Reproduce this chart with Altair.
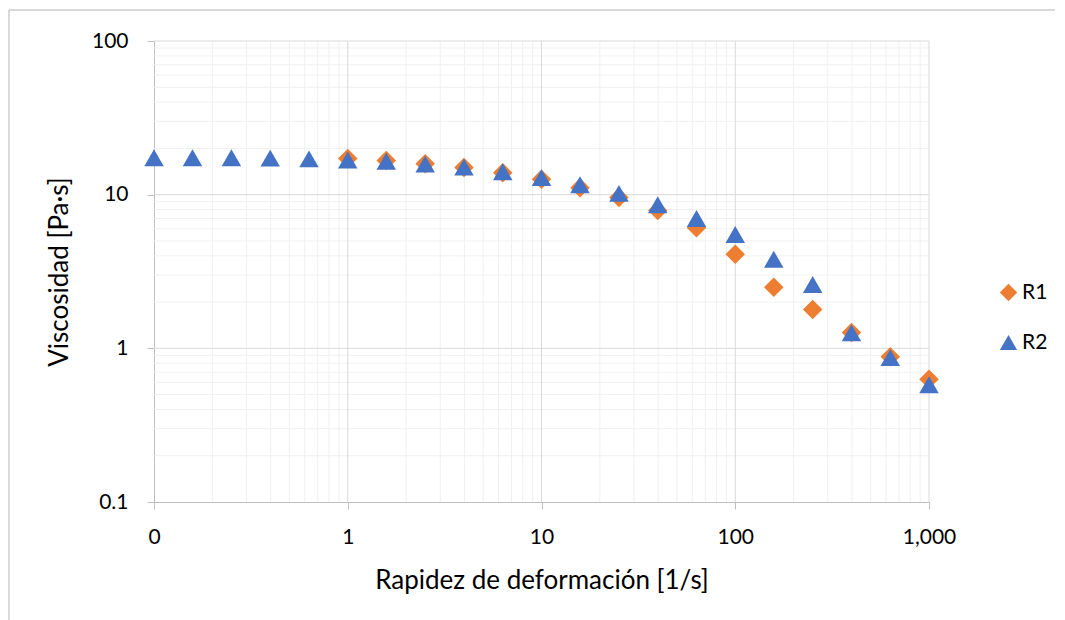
import altair as alt
import pandas as pd

# Shear rate (1/s) and viscosity (Pa·s) for the two runs
RATE_R1 = [1, 1.58, 2.51, 3.98, 6.31, 10, 15.8, 25.1, 39.8, 63.1,
           100, 158, 251, 398, 631, 1000]
VISC_R1 = [17.2, 16.7, 15.9, 15.0, 13.9, 12.6, 11.1, 9.6, 7.9, 6.1,
           4.1, 2.5, 1.79, 1.27, 0.88, 0.63]

RATE_R2 = [0.1, 0.158, 0.251, 0.398, 0.631, 1, 1.58, 2.51, 3.98, 6.31,
           10, 15.8, 25.1, 39.8, 63.1, 100, 158, 251, 398, 631, 1000]
VISC_R2 = [17.4, 17.4, 17.4, 17.3, 17.1, 16.8, 16.5, 15.8, 15.1, 14.1,
           12.9, 11.6, 10.2, 8.6, 7.0, 5.5, 3.8, 2.6, 1.26, 0.87, 0.58]

SERIES = ["R1", "R2"]
COLORS = ["#ED7D31", "#4472C4"]
SHAPES = ["diamond", "triangle-up"]

X_TICKS = [0.1, 1, 10, 100, 1000]
X_TICK_LABELS = ["0", "1", "10", "100", "1,000"]
Y_TICKS = [0.1, 1, 10, 100]
Y_TICK_LABELS = ["0.1", "1", "10", "100"]

X_MINOR = [m * d for d in (0.1, 1, 10, 100) for m in range(2, 10)]
Y_MINOR = [m * d for d in (0.1, 1, 10) for m in range(2, 10)]

FONT = "Lato"
TEXT = "#000000"
MAJOR = "#D9D9D9"
MINOR = "#F0F0F0"
AXIS_LINE = "#BFBFBF"
X_TITLE = "Rapidez de deformación [1/s]"
Y_TITLE = "Viscosidad [Pa·s]"


def label_expr(values, labels):
    parts = [f"datum.value == {v} ? '{l}'" for v, l in zip(values, labels)]
    return " : ".join(parts) + " : ''"


points = pd.DataFrame({
    "rate": RATE_R1 + RATE_R2,
    "visc": VISC_R1 + VISC_R2,
    "serie": ["R1"] * len(RATE_R1) + ["R2"] * len(RATE_R2),
})

x_scale = alt.Scale(type="log", domain=[0.1, 1000], nice=False)
y_scale = alt.Scale(type="log", domain=[0.1, 100], nice=False)

x_axis = alt.Axis(
    values=X_TICKS, labelExpr=label_expr(X_TICKS, X_TICK_LABELS),
    grid=False, domainColor=AXIS_LINE, tickColor=AXIS_LINE,
    tickSize=7, labelPadding=34, labelBaseline="alphabetic",
    labelFlush=False, labelOverlap=False,
    labelFont=FONT, labelFontSize=21, labelColor=TEXT,
    title=X_TITLE, titleFont=FONT,
    titleFontSize=26, titleFontWeight="normal", titleColor=TEXT,
    titleBaseline="alphabetic", titleY=86, titleX=387.5,
    titleAlign="center",
)
y_axis = alt.Axis(
    values=Y_TICKS, labelExpr=label_expr(Y_TICKS, Y_TICK_LABELS),
    grid=False, domainColor=AXIS_LINE, tickColor=AXIS_LINE,
    tickSize=7, labelPadding=19, labelFlush=False, labelOverlap=False,
    labelFont=FONT, labelFontSize=21, labelColor=TEXT,
    title=Y_TITLE, titleFont=FONT,
    titleFontSize=26, titleFontWeight="normal", titleColor=TEXT,
    titleBaseline="alphabetic", titleAngle=270, titleX=-87,
    titleY=230.5, titleAlign="center",
)

# Minor gridlines first, major gridlines over them; they carry the axes
minor_x = alt.Chart(pd.DataFrame({"rate": X_MINOR})).mark_rule(
    color=MINOR, strokeWidth=1
).encode(x=alt.X("rate:Q", scale=x_scale, axis=x_axis, title=X_TITLE))

minor_y = alt.Chart(pd.DataFrame({"visc": Y_MINOR})).mark_rule(
    color=MINOR, strokeWidth=1
).encode(y=alt.Y("visc:Q", scale=y_scale, axis=y_axis, title=Y_TITLE))

major_x = alt.Chart(pd.DataFrame({"rate": X_TICKS[1:]})).mark_rule(
    color=MAJOR, strokeWidth=1
).encode(x=alt.X("rate:Q", scale=x_scale, axis=x_axis, title=X_TITLE))

major_y = alt.Chart(pd.DataFrame({"visc": Y_TICKS[1:]})).mark_rule(
    color=MAJOR, strokeWidth=1
).encode(y=alt.Y("visc:Q", scale=y_scale, axis=y_axis, title=Y_TITLE))

legend = alt.Legend(
    title=None, orient="none", legendX=844, legendY=241,
    labelFont=FONT, labelFontSize=21, labelColor=TEXT,
    symbolSize=300, symbolStrokeWidth=0, rowPadding=28,
    labelOffset=3, padding=0,
)

scatter = alt.Chart(points).mark_point(
    filled=True, opacity=1, size=380, strokeWidth=0
).encode(
    x=alt.X("rate:Q", scale=x_scale, axis=x_axis, title=X_TITLE),
    y=alt.Y("visc:Q", scale=y_scale, axis=y_axis, title=Y_TITLE),
    color=alt.Color("serie:N", scale=alt.Scale(domain=SERIES, range=COLORS),
                    legend=legend),
    shape=alt.Shape("serie:N", scale=alt.Scale(domain=SERIES, range=SHAPES),
                    legend=legend),
    order=alt.Order("serie:N"),
)

# Outer frame of the chart area
frame_src = pd.DataFrame({"k": [0]})
frame_left = alt.Chart(frame_src).mark_rule(color="#B3B3B3", strokeWidth=1).encode(
    x=alt.value(-145), y=alt.value(-31), y2=alt.value(600)
)
frame_top = alt.Chart(frame_src).mark_rule(color="#B3B3B3", strokeWidth=1).encode(
    x=alt.value(-145), x2=alt.value(901), y=alt.value(-31)
)

chart = alt.layer(
    minor_x, minor_y, major_x, major_y, scatter, frame_left, frame_top
).properties(
    width=775,
    height=461,
    padding={"left": 154, "top": 41, "right": 136, "bottom": 118},
    autosize=alt.AutoSizeParams(type="none"),
    background="white",
).configure_view(stroke=None)

chart.save("out.html", embed_options={"renderer": "svg", "actions": False})
